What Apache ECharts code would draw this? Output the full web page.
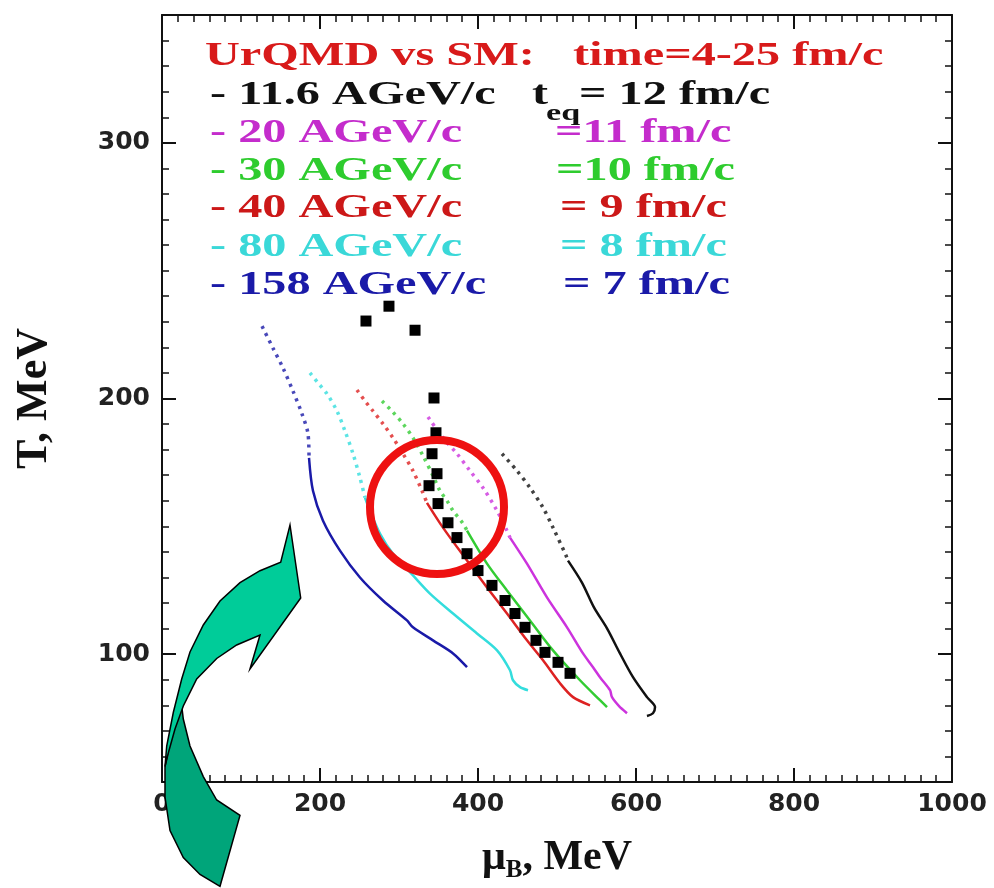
<!DOCTYPE html>
<html>
<head>
<meta charset="utf-8">
<script src="https://cdn.jsdelivr.net/npm/echarts@6/dist/echarts.min.js"></script>
<style>
  html, body { margin: 0; padding: 0; background: #fff; }
  #main { width: 994px; height: 888px; }
</style>
</head>
<body>
<div id="main"></div>
<script>
var myChart = echarts.init(document.getElementById('main'));

// UrQMD trajectories in the T - muB plane (dotted: early times, solid: after t_eq)
var black116Dot = [[430.4,178.4],[449.4,171.7],[465.8,165.1],[482.3,157.3],[494.9,149.5],[511.4,138.6],[513.9,136.6]];
var black116Solid = [[513.9,136.6],[531.6,128.0],[546.8,118.3],[563.3,110.1],[579.7,100.3],[596.2,91.0],[613.9,83.2],[624.1,79.3],[621.5,76.9],[613.9,75.8]];
var mag20Dot = [[336.7,192.8],[355.7,184.6],[373.4,178.4],[389.9,171.7],[406.3,165.1],[424.1,156.1],[436.7,148.3],[440.5,145.6]];
var mag20Solid = [[440.5,145.6],[462.0,135.4],[487.3,122.2],[512.7,110.5],[532.9,100.3],[545.6,94.9],[554.4,91.0],[567.1,85.9],[569.6,83.2],[579.7,79.3],[588.6,76.9]];
var green30Dot = [[278.5,199.0],[291.1,195.1],[305.1,190.1],[317.7,184.6],[330.4,177.6],[343.0,169.8],[351.9,163.9],[360.8,160.0],[368.4,156.1],[381.0,151.1],[386.1,148.3]];
var green30Solid = [[386.1,148.3],[411.4,135.4],[436.7,124.9],[465.8,113.2],[494.9,101.5],[529.1,89.8],[554.4,82.0],[563.3,79.3]];
var red40Dot = [[246.8,203.3],[257.0,199.0],[267.1,195.1],[279.7,190.1],[292.4,184.6],[305.1,178.4],[317.7,171.7],[329.1,163.9],[335.4,159.2]];
var red40Solid = [[335.4,159.2],[355.7,149.5],[386.1,136.6],[411.4,126.1],[436.7,115.9],[462.0,105.4],[482.3,97.6],[503.8,88.6],[520.3,83.2],[541.8,80.0]];
var cyan80Dot = [[187.3,210.0],[197.5,206.1],[208.9,201.8],[221.5,195.1],[231.6,187.3],[241.8,178.4],[250.6,169.0],[257.0,161.2]];
var cyan80Solid = [[257.0,161.2],[263.3,156.1],[275.9,147.2],[292.4,139.3],[317.7,130.8],[339.2,123.7],[368.4,115.9],[398.7,108.1],[424.1,101.5],[440.5,93.7],[444.3,89.8],[453.2,87.1],[463.3,85.9]];
var blue158Dot = [[126.6,228.3],[140.5,219.7],[153.2,211.9],[165.8,202.9],[177.2,194.0],[184.8,186.2],[186.1,176.8]];
var blue158Solid = [[186.1,176.8],[191.1,163.9],[203.8,152.2],[225.3,140.5],[250.6,130.0],[279.7,121.0],[310.1,113.2],[317.7,110.5],[343.0,105.4],[368.4,100.3],[386.1,94.9]];

// statistical model points
var smPoints = [[258.2,230.3],[287.3,236.1],[320.3,226.7],[344.3,200.2],[346.8,186.6],[341.8,178.4],[348.1,170.6],[338.0,165.9],[349.4,158.9],[362.0,151.4],[373.4,145.6],[386.1,139.3],[400.0,132.7],[417.7,126.9],[434.2,121.0],[446.8,115.9],[459.5,110.5],[473.4,105.4],[484.8,100.7],[501.3,96.8],[516.5,92.5]];

var yLabels = [100, 200, 300];

var curves = [
  { dot: black116Dot, solid: black116Solid, color: '#111111' },
  { dot: mag20Dot, solid: mag20Solid, color: '#cc33dd' },
  { dot: green30Dot, solid: green30Solid, color: '#33cc33' },
  { dot: red40Dot, solid: red40Solid, color: '#dd2222' },
  { dot: cyan80Dot, solid: cyan80Solid, color: '#33dddd' },
  { dot: blue158Dot, solid: blue158Solid, color: '#1a1aa8' }
];

var series = [];
curves.forEach(function (c) {
  series.push({
    type: 'line', data: c.dot, showSymbol: false, smooth: 0.3,
    lineStyle: { color: c.color, width: 3.5, type: [3, 5], opacity: 0.8 },
    silent: true
  });
  series.push({
    type: 'line', data: c.solid, showSymbol: false, smooth: 0.3,
    lineStyle: { color: c.color, width: 2.5 },
    silent: true
  });
});
series.push({
  type: 'scatter', data: smPoints, symbol: 'rect', symbolSize: 11,
  itemStyle: { color: '#000', opacity: 1 }, z: 5
});

var serif = 'bold 34px "Liberation Serif", "Times New Roman", serif';
function txt(x, y, s, color, font) {
  return {
    type: 'text', x: x, y: y, scaleX: 1.42, z: 10,
    style: { text: s, fill: color, font: font || serif, textVerticalAlign: 'middle' }
  };
}

var legendText = [
  txt(205, 56, 'UrQMD vs SM:', '#d81a1a'),
  txt(573, 56, 'time=4-25 fm/c', '#d81a1a'),
  txt(210, 95, '- 11.6 AGeV/c', '#111111'),
  txt(532, 95, 't', '#111111'),
  txt(546, 114, 'eq', '#111111', 'bold 24px "Liberation Serif", serif'),
  txt(579, 95, '= 12 fm/c', '#111111'),
  txt(210, 133, '- 20 AGeV/c', '#c42ccc'),
  txt(555, 133, '=11 fm/c', '#c42ccc'),
  txt(210, 171, '- 30 AGeV/c', '#2ecc2e'),
  txt(556, 171, '=10 fm/c', '#2ecc2e'),
  txt(210, 208, '- 40 AGeV/c', '#cc1818'),
  txt(560, 208, '= 9 fm/c', '#cc1818'),
  txt(210, 247, '- 80 AGeV/c', '#3ad8d8'),
  txt(560, 247, '= 8 fm/c', '#3ad8d8'),
  txt(210, 285, '- 158 AGeV/c', '#1a1aa8'),
  txt(563, 285, '= 7 fm/c', '#1a1aa8')
];

var arrowLight = [[290,525],[300.7,598],[250,669],[260,635],[236.7,645],[216.7,658.5],[196.7,679],[183.3,706],[175,729],[168.3,753],[165,766.5],[166.7,746],[173.3,712.5],[181.7,679],[190,652],[203.3,625],[220,601],[240,582.6],[260,570.7],[280.7,562.3]];
var arrowDark = [[165,766.5],[165,797],[170,830.6],[183.3,857.6],[200,874.5],[220,886.3],[240,815.4],[216.7,800],[203.3,776.6],[190,746],[183.3,719],[181.7,705.7],[173.3,726]];

var tickFont = { fontFamily: '"DejaVu Sans", Arial, sans-serif', fontWeight: 'bold', fontSize: 25, color: '#222' };
var frame = { show: true, lineStyle: { color: '#111', width: 2 } };

var option = {
  backgroundColor: '#fff',
  animation: false,
  grid: { left: 162, right: 42, top: 15, bottom: 106 },
  xAxis: [{
    type: 'value', min: 0, max: 1000, interval: 200, position: 'bottom',
    axisLine: frame,
    axisTick: { inside: true, length: 14, lineStyle: { color: '#111', width: 2 } },
    minorTick: { show: true, splitNumber: 10, length: 7, lineStyle: { color: '#111', width: 1.5 } },
    axisLabel: Object.assign({ margin: 10, formatter: function (v) { return String(v); } }, tickFont),
    splitLine: { show: false },
    name: '{a|μ}{s|B}{a|, MeV}', nameLocation: 'middle', nameGap: 52,
    nameTextStyle: {
      rich: {
        a: { fontFamily: '"Liberation Serif", serif', fontWeight: 'bold', fontSize: 42, color: '#111' },
        s: { fontFamily: '"Liberation Serif", serif', fontWeight: 'bold', fontSize: 25, color: '#111', padding: [24, 0, 0, 0] }
      }
    }
  }, {
    type: 'value', min: 0, max: 1000, interval: 200, position: 'top',
    axisLine: frame,
    axisTick: { inside: true, length: 14, lineStyle: { color: '#111', width: 2 } },
    minorTick: { show: true, splitNumber: 10, length: 7, lineStyle: { color: '#111', width: 1.5 } },
    axisLabel: { show: false }, splitLine: { show: false }
  }],
  yAxis: [{
    type: 'value', min: 50, max: 350, interval: 10, position: 'left',
    axisLine: frame,
    axisTick: { inside: true, length: 7, lineStyle: { color: '#111', width: 1.5 } },
    axisLabel: Object.assign({ margin: 12, customValues: yLabels }, tickFont),
    splitLine: { show: false },
    name: 'T, MeV', nameLocation: 'middle', nameRotate: 90, nameGap: 105,
    nameTextStyle: { fontFamily: '"Liberation Serif", serif', fontWeight: 'bold', fontSize: 44, color: '#111' }
  }, {
    type: 'value', min: 50, max: 350, position: 'left',
    axisLine: { show: false },
    axisTick: { inside: true, length: 14, customValues: yLabels, lineStyle: { color: '#111', width: 2 } },
    axisLabel: { show: false }, splitLine: { show: false }
  }, {
    type: 'value', min: 50, max: 350, interval: 10, position: 'right',
    axisLine: frame,
    axisTick: { inside: true, length: 7, lineStyle: { color: '#111', width: 1.5 } },
    axisLabel: { show: false }, splitLine: { show: false }
  }, {
    type: 'value', min: 50, max: 350, position: 'right',
    axisLine: { show: false },
    axisTick: { inside: true, length: 14, customValues: yLabels, lineStyle: { color: '#111', width: 2 } },
    axisLabel: { show: false }, splitLine: { show: false }
  }],
  series: series,
  graphic: legendText.concat([
    {
      type: 'circle', z: 20, shape: { cx: 437, cy: 507, r: 67 },
      style: { fill: 'none', stroke: '#ee1111', lineWidth: 8 }
    },
    {
      type: 'polygon', z: 20, shape: { points: arrowDark },
      style: { fill: '#00a57a', stroke: '#000', lineWidth: 1.5 }
    },
    {
      type: 'polygon', z: 21, shape: { points: arrowLight },
      style: { fill: '#00cc99', stroke: '#000', lineWidth: 1.5 }
    }
  ])
};

myChart.setOption(option);
</script>
</body>
</html>
